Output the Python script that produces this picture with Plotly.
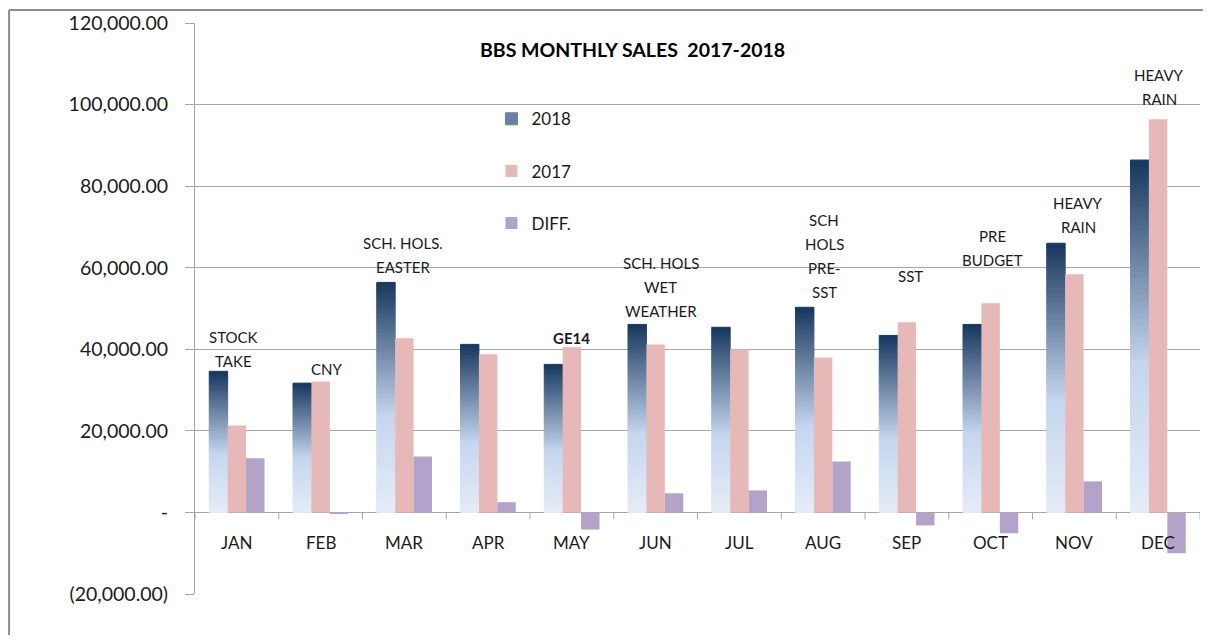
import plotly.graph_objects as go

# ---------------- data ----------------
months = ["JAN", "FEB", "MAR", "APR", "MAY", "JUN", "JUL", "AUG", "SEP", "OCT", "NOV", "DEC"]
sales_2018 = [34600, 31700, 56400, 41200, 36300, 46100, 45400, 50300, 43400, 46100, 66000, 86400]
sales_2017 = [21300, 32100, 42700, 38800, 40500, 41200, 40000, 38000, 46600, 51300, 58400, 96400]
diff = [13300, -400, 13700, 2500, -4200, 4700, 5400, 12500, -3200, -5100, 7600, -10000]

notes = ["STOCK\nTAKE", "CNY", "SCH. HOLS.\nEASTER", "", "GE14", "SCH. HOLS\nWET\nWEATHER",
         "", "SCH\nHOLS\nPRE-\nSST", "SST", "PRE\nBUDGET", "HEAVY\nRAIN", "HEAVY\nRAIN"]
note_bold = [False, False, False, False, True, False, False, False, False, False, False, False]
note_y = [35100, 33100, 58200, 0, 40700, 47400, 0, 52000, 55900, 59900, 68000, 99400]
note_dx = [-3, 6, -1, 0, 0, 5, 0, 1, 4, 2, 4, 1]

tick_vals = [-20000, 0, 20000, 40000, 60000, 80000, 100000, 120000]
tick_text = ["(20,000.00)", "-", "20,000.00", "40,000.00", "60,000.00", "80,000.00",
             "100,000.00", "120,000.00"]

title = "BBS MONTHLY SALES  2017-2018"

# ---------------- styling ----------------
FONT = "Lato"
GRID = "#a6a6a6"
C2017 = "#e6b9b8"
CDIFF = "#b3a3c9"
grad_stops = [(0.0, (229, 236, 247)), (0.42, (197, 214, 238)), (1.0, (23, 55, 94))]


def grad_color(f):
    for (f0, c0), (f1, c1) in zip(grad_stops[:-1], grad_stops[1:]):
        if f0 <= f <= f1:
            t = (f - f0) / (f1 - f0)
            c = [round(a + (b - a) * t) for a, b in zip(c0, c1)]
            return "rgb(%d,%d,%d)" % tuple(c)
    return "rgb(%d,%d,%d)" % grad_stops[-1][1]


fig = go.Figure()

N = 60
legend_slice = int(N * 0.72)
for k in range(N):
    col = grad_color((k + 0.5) / N)
    fig.add_trace(go.Bar(
        x=months,
        y=[v / N for v in sales_2018],
        base=[v * k / N for v in sales_2018],
        offsetgroup="a",
        name="2018",
        legendgroup="2018",
        showlegend=(k == legend_slice),
        marker=dict(color=col, line=dict(width=1, color=col)),
        hoverinfo="skip",
    ))

fig.add_trace(go.Bar(x=months, y=sales_2017, name="2017", offsetgroup="b", legendgroup="2017",
                     marker=dict(color=C2017, line=dict(width=0))))
fig.add_trace(go.Bar(x=months, y=diff, name="DIFF.", offsetgroup="c", legendgroup="DIFF",
                     marker=dict(color=CDIFF, line=dict(width=0))))

annotations = []
# month labels along the zero line
for m in months:
    annotations.append(dict(x=m, y=0, xref="x", yref="y", text=m, showarrow=False,
                            yshift=-30, yanchor="middle",
                            font=dict(family=FONT, size=17, color="#1a1a1a")))
# event notes above bars
LINE_H = 24
for m, t, b, yv, dx in zip(months, notes, note_bold, note_y, note_dx):
    if not t:
        continue
    lines = t.split("\n")
    for i, ln in enumerate(lines):
        shift = (len(lines) - 1 - i) * LINE_H - 3
        annotations.append(dict(x=m, y=yv, xref="x", yref="y",
                                text=("<b>%s</b>" % ln) if b else ln,
                                showarrow=False, yanchor="bottom", xshift=dx, yshift=shift,
                                font=dict(family=FONT, size=15, color="#1a1a1a")))
annotations.append(dict(x=0.435, y=0.953, xref="paper", yref="paper", text="<b>%s</b>" % title,
                        showarrow=False, xanchor="center", yanchor="middle",
                        font=dict(family=FONT, size=19.5, color="#000000")))

shapes = []
# category separator ticks below the zero line
for i in range(len(months) + 1):
    shapes.append(dict(type="line", xref="x", yref="y", x0=i - 0.5, x1=i - 0.5,
                       ysizemode="pixel", yanchor=0, y0=0, y1=-7,
                       line=dict(color=GRID, width=1)))
# outer chart border (top and left edges)
shapes.append(dict(type="line", xref="paper", yref="paper", x0=-0.185, x1=1.05, y0=1.0228, y1=1.0228,
                   line=dict(color="#8c8c8c", width=2), layer="below"))
shapes.append(dict(type="line", xref="paper", yref="paper", x0=-0.185, x1=-0.185, y0=-0.2, y1=1.0228,
                   line=dict(color="#8c8c8c", width=2), layer="below"))

fig.update_layout(
    barmode="group",
    bargap=0.34,
    bargroupgap=0,
    plot_bgcolor="white",
    paper_bgcolor="white",
    margin=dict(l=187, r=3, t=15, b=41),
    font=dict(family=FONT, size=17, color="#1a1a1a"),
    showlegend=True,
    legend=dict(x=0.295, y=0.863, xanchor="left", yanchor="top", bgcolor="rgba(0,0,0,0)",
                tracegroupgap=27, font=dict(family=FONT, size=17, color="#1a1a1a"),
                itemwidth=30),
    annotations=annotations,
    shapes=shapes,
    xaxis=dict(showticklabels=False, showgrid=False, showline=False, ticks="", zeroline=False,
               range=[-0.5, len(months) - 0.5]),
    yaxis=dict(range=[-20000, 120000], tickvals=tick_vals, ticktext=tick_text,
               showgrid=True, gridcolor=GRID, gridwidth=1,
               zeroline=True, zerolinecolor=GRID, zerolinewidth=1,
               showline=True, linecolor=GRID, linewidth=1,
               ticks="outside", ticklen=9, tickcolor=GRID, ticklabelstandoff=13,
               tickfont=dict(family=FONT, size=19.5, color="#1a1a1a")),
)

fig.write_html("out.html")
